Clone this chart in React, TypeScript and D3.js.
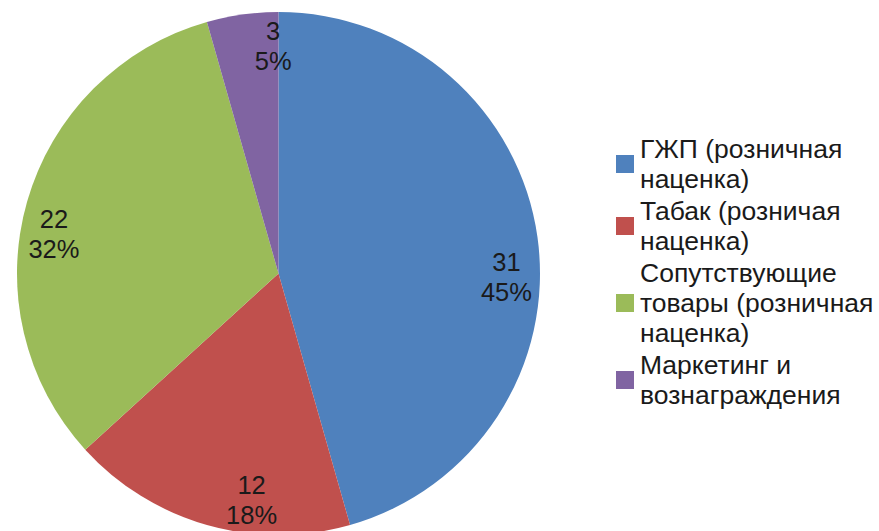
import React from "react";
import * as d3 from "d3";

const categories: string[] = [
  "ГЖП (розничная наценка)",
  "Табак (розничая наценка)",
  "Сопутствующие товары (розничная наценка)",
  "Маркетинг и вознаграждения",
];
const legendLines: string[][] = [
  ["ГЖП (розничная", "наценка)"],
  ["Табак (розничая", "наценка)"],
  ["Сопутствующие", "товары (розничная", "наценка)"],
  ["Маркетинг и", "вознаграждения"],
];
const values: number[] = [31, 12, 22, 3];
const percentLabels: string[] = ["45%", "18%", "32%", "5%"];
const colors: string[] = ["#4F81BD", "#C0504D", "#9BBB59", "#8064A2"];

// layout
const W = 879;
const H = 531;
const CX = 278.5;
const CY = 273.5;
const R = 261.5;
const LABEL_R = 228;
const LABEL_SHIFT_DEG = [8.8, -9.1, -6, 6.6]; // Excel best-fit placement offsets
const FONT = "'Liberation Sans', Arial, sans-serif";
const FS = 25.5;
const LEGEND_FS = 26.5;

export default function App() {
  const pie = d3.pie<number>().sort(null).value((d) => d);
  const arcs = pie(values);
  const arc = d3.arc<d3.PieArcDatum<number>>().innerRadius(0).outerRadius(R);

  // legend layout
  const lineH = 30;
  const entryGap = 2;
  let y = 158;
  const legendItems = legendLines.map((lines, i) => {
    const baselines = lines.map((_, j) => y + j * lineH);
    y += lines.length * lineH + entryGap;
    const first = baselines[0] - 9;
    const last = baselines[baselines.length - 1] - 9;
    const mid = (first + last) / 2;
    return { lines, baselines, mid, i };
  });

  return (
    <svg
      width={W}
      height={H}
      style={{ position: "absolute", left: 0, top: 0, background: "#fff" }}
      fontFamily={FONT}
    >
      <g transform={`translate(${CX},${CY})`}>
        {arcs.map((a, i) => (
          <path key={i} d={arc(a) || ""} fill={colors[i]} />
        ))}
        {arcs.map((a, i) => {
          const ang = (a.startAngle + a.endAngle) / 2 + (LABEL_SHIFT_DEG[i] * Math.PI) / 180;
          const x = LABEL_R * Math.sin(ang);
          const yy = -LABEL_R * Math.cos(ang);
          return (
            <text
              key={i}
              x={x}
              y={yy}
              textAnchor="middle"
              fontSize={FS}
              fill="#1a1a1a"
            >
              <tspan x={x} dy={-6}>{String(values[i])}</tspan>
              <tspan x={x} dy={30}>{percentLabels[i]}</tspan>
            </text>
          );
        })}
      </g>
      <g>
        {legendItems.map((it) => (
          <g key={it.i}>
            <rect x={616} y={it.mid - 9} width={18} height={18} fill={colors[it.i]} />
            {it.lines.map((ln, j) => (
              <text key={j} x={640} y={it.baselines[j]} fontSize={LEGEND_FS} fill="#1a1a1a">
                {ln}
              </text>
            ))}
          </g>
        ))}
      </g>
    </svg>
  );
}
